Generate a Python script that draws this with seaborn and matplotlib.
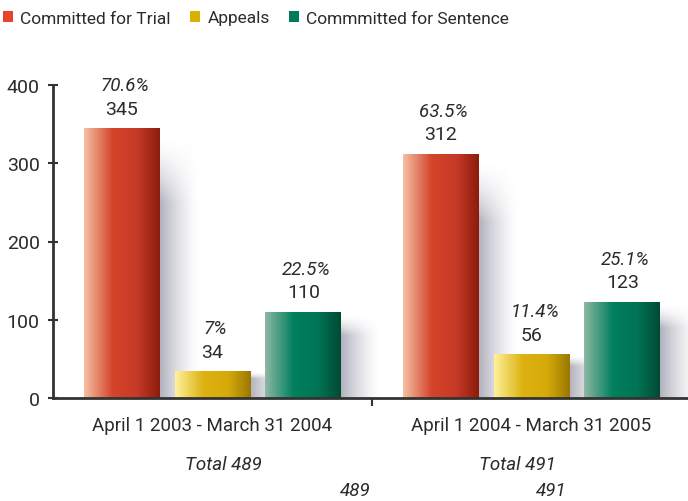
import numpy as np
import pandas as pd
import matplotlib
matplotlib.use("Agg")
import matplotlib.pyplot as plt
from matplotlib.colors import LinearSegmentedColormap
from matplotlib.patches import Patch
import seaborn as sns

# data
PERIODS = ["April 1 2003 - March 31 2004", "April 1 2004 - March 31 2005"]
CATEGORIES = ["Committed for Trial", "Appeals", "Commmitted for Sentence"]
VALUES_2003 = [345, 34, 110]
VALUES_2004 = [312, 56, 123]
PCT_2003 = ["70.6%", "7%", "22.5%"]
PCT_2004 = ["63.5%", "11.4%", "25.1%"]
TOTALS = [489, 491]

# colours: legend swatch, and bar gradient (light edge, main, dark edge)
LEGEND_COLORS = ["#e8432a", "#dcb000", "#007a58"]
GRADIENTS = [["#f6c0a4", "#d4442a", "#c63a26", "#8c1c0c"],
             ["#fff29c", "#dcb110", "#d6aa0a", "#9a7800"],
             ["#8db8a4", "#00805e", "#007454", "#004a34"]]
TEXT = "#2b2b2b"

df = pd.DataFrame({
    "period": np.repeat(PERIODS, len(CATEGORIES)),
    "category": CATEGORIES * len(PERIODS),
    "value": VALUES_2003 + VALUES_2004,
    "pct": PCT_2003 + PCT_2004,
})

sns.set_style("ticks")
plt.rcParams["font.family"] = ["Roboto", "DejaVu Sans"]
plt.rcParams["text.color"] = TEXT

fig = plt.figure(figsize=(6.88, 5.02), dpi=100)
ax = fig.add_axes([53 / 688, 103 / 502, 638 / 688, 313 / 502])

sns.barplot(data=df, x="period", y="value", hue="category", hue_order=CATEGORIES,
            order=PERIODS, palette=LEGEND_COLORS, width=0.855, gap=0.165,
            legend=False, ax=ax, errorbar=None)

# patches come out hue-major: all trial bars, then appeals, then sentence
bars = [p for p in ax.patches if p.get_height() > 0]
for k, bar in enumerate(bars):
    ci = k // len(PERIODS)
    pi = k % len(PERIODS)
    x0, w, h = bar.get_x(), bar.get_width(), bar.get_height()

    # soft drop shadow to the right of the bar
    nx, ny = 60, 80
    gx = np.linspace(0, 1, nx)
    gy = np.linspace(0, 1, ny)
    fade_x = np.clip(1 - gx, 0, 1) ** 1.4
    fade_y = np.clip(gy / 0.25, 0, 1) ** 1.5   # soft top edge
    alpha = 0.6 * fade_y[:, None] * fade_x[None, :]
    shadow = np.zeros((ny, nx, 4))
    shadow[..., :3] = (0.5, 0.5, 0.58)
    shadow[..., 3] = alpha
    ax.imshow(shadow, extent=[x0 + w, x0 + w + 0.12, 0, h * 0.97], origin="upper",
              aspect="auto", zorder=1.5, interpolation="bilinear")

    # horizontal gradient fill clipped to the bar
    cmap = LinearSegmentedColormap.from_list(
        f"g{ci}", list(zip([0, 0.38, 0.7, 1], GRADIENTS[ci])))
    grad = np.linspace(0, 1, 256)[None, :]
    im = ax.imshow(grad, cmap=cmap, extent=[x0, x0 + w, 0, h], aspect="auto",
                   zorder=2.5, interpolation="bilinear")
    im.set_clip_path(bar)

    val = (VALUES_2003, VALUES_2004)[pi][ci]
    pct = (PCT_2003, PCT_2004)[pi][ci]
    cx = x0 + w / 2
    ax.annotate(str(val), (cx, h), xytext=(0, 14), textcoords="offset points",
                ha="center", va="center", fontsize=14, color=TEXT)
    ax.annotate(pct, (cx + 0.01, h), xytext=(0, 31), textcoords="offset points",
                ha="center", va="center", fontsize=13.5, style="italic", color=TEXT)

ax.set_xlim(-0.5, 1.5)
ax.set_ylim(0, 400)

# axes styling
sns.despine(ax=ax, top=True, right=True)
for s in ("left", "bottom"):
    ax.spines[s].set_linewidth(2)
    ax.spines[s].set_color("#333333")
ax.set_xlabel("")
ax.set_ylabel("")
ax.set_yticks([0, 100, 200, 300, 400])
ax.tick_params(axis="y", direction="inout", length=7, width=1.5, color="#333333",
               labelsize=14, labelcolor=TEXT, pad=6)
ax.set_xticks([0, 1])
ax.set_xticklabels(PERIODS)
ax.tick_params(axis="x", length=0, labelsize=13.5, labelcolor=TEXT, pad=13)
ax.set_xticks([0.5], minor=True)
ax.tick_params(axis="x", which="minor", direction="out", length=6, width=1.5,
               color="#333333")

# totals under the category labels (plus the stray repeated numbers)
fig.text(223 / 688, 1 - 465 / 502, f"Total {TOTALS[0]}", ha="center", va="center",
         fontsize=13.5, style="italic", color=TEXT)
fig.text(517 / 688, 1 - 465 / 502, f"Total {TOTALS[1]}", ha="center", va="center",
         fontsize=13.5, style="italic", color=TEXT)
fig.text(355 / 688, 1 - 491 / 502, str(TOTALS[0]), ha="center", va="center",
         fontsize=13.5, style="italic", color=TEXT)
fig.text(551 / 688, 1 - 491 / 502, str(TOTALS[1]), ha="center", va="center",
         fontsize=13.5, style="italic", color=TEXT)

handles = [Patch(facecolor=c, edgecolor="none") for c in LEGEND_COLORS]
fig.legend(handles, CATEGORIES, loc="center", bbox_to_anchor=(256 / 688, 1 - 19 / 502),
           ncol=3, frameon=False, fontsize=12.5, handlelength=0.6, handleheight=0.6,
           handletextpad=0.4, columnspacing=1.1, borderpad=0.2, borderaxespad=0)

fig.savefig("out.png", dpi=100)
